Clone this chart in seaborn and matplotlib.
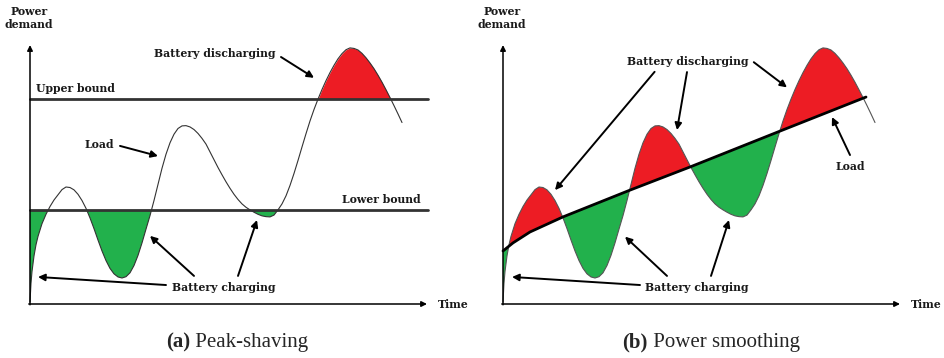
import numpy as np
import pandas as pd
import matplotlib
matplotlib.use("Agg")
import matplotlib.pyplot as plt
import seaborn as sns

# ---- data (arbitrary units) ----
load_time = [0, 0.25, 0.5, 1, 1.5, 2, 3, 4, 5, 6, 7, 8, 9, 10, 11, 12, 13, 14, 15,
             16, 17, 18, 19, 20, 21, 22, 23, 24, 25, 26, 27, 28, 29, 30, 31, 32, 33,
             34, 35, 36, 37, 38, 39, 40, 41, 42, 43, 44, 45, 46, 47, 48, 49, 50, 51,
             52, 53, 54, 55, 56, 57, 58, 59, 60, 61, 62, 63, 64, 65, 66, 67, 68, 69,
             70, 71, 72, 73, 74, 75, 76, 77, 78, 79, 80, 81, 82, 83, 84, 85, 86, 87,
             88, 89, 90, 91, 92, 93]
load_power = [0.8, 8, 12.5, 18.5, 22.8, 26, 30.9, 34.5, 37.5, 40, 42, 44, 45, 44.8,
              43.9, 42.2, 39.8, 36.8, 33.1, 29, 24.6, 20.4, 16.7, 13.7, 11.6, 10.4, 10,
              10.5, 12, 14.8, 18.7, 23.5, 28.8, 34, 39.8, 46, 52.2, 57.6, 62, 65.3,
              67.5, 68.5, 68.6, 68.1, 67.1, 65.6, 63.7, 61.5, 58.5, 55.5, 52.5, 49.7,
              47, 44.5, 42.2, 40.2, 38.5, 37.2, 36.2, 35.3, 34.5, 33.9, 33.6, 33.5,
              34.2, 36.2, 38.5, 41.6, 45.6, 50.2, 55.2, 60.4, 65.5, 70.4, 74.8, 78.8,
              82.5, 85.9, 89, 91.8, 94.3, 96.3, 97.8, 98.5, 98.3, 97.7, 96.4, 94.7,
              92.7, 90.5, 88, 85.3, 82.4, 79.4, 76.3, 73.1, 69.8]
upper_bound = 78.8
lower_bound = 36.2
smooth_time = [0, 2.5, 6.75, 15, 31.25, 46.75, 69.25, 90.75]
smooth_power = [20.4, 23.5, 27.7, 33.5, 43.5, 52.7, 66.5, 79.6]

RED = "#ED1C24"
GREEN = "#22B14C"

sns.set_style("white")
plt.rcParams["font.family"] = ["DejaVu Serif"]

fig = plt.figure(figsize=(9.44, 3.58), dpi=100)
W, H = 944, 358
ax_a = fig.add_axes([0, 0, 472 / W, 1])
ax_b = fig.add_axes([472 / W, 0, 472 / W, 1])

t = np.array(load_time)
p = np.array(load_power)
df = pd.DataFrame({"time": t, "power": p})

LBL = dict(fontsize=7.8, fontweight="bold", color="#1a1a1a")
ARW = dict(arrowstyle="-|>", color="black", lw=1.4, mutation_scale=10,
           shrinkA=0, shrinkB=0)


def base(ax, x0px):
    # 1 time unit = 4 px, 1 power unit = 2.6 px
    ax.set_xlim(-(x0px) / 4, (472 - x0px) / 4)
    ax.set_ylim(-(358 - 304) / 2.6, 304 / 2.6)
    ax.axis("off")
    ax.annotate("", xy=(0, 99.6), xytext=(0, -0.3),
                arrowprops=dict(ARW, lw=1.1, mutation_scale=8))
    ax.annotate("", xy=(99.25, 0), xytext=(-0.3, 0),
                arrowprops=dict(ARW, lw=1.1, mutation_scale=8))
    ax.text(-0.25, 110, "Power\ndemand", ha="center", va="center",
            linespacing=1.25, **LBL)
    ax.text(102, 0, "Time", ha="left", va="center", **LBL)


# ---- panel (a) ----
ax = ax_a
base(ax, 30)
ax.fill_between(t, p, lower_bound, where=p < lower_bound, interpolate=True,
                color=GREEN, lw=0)
ax.fill_between(t, p, upper_bound, where=p > upper_bound, interpolate=True,
                color=RED, lw=0)
ax.plot([0, 99.5], [upper_bound, upper_bound], color="#333333", lw=2)
ax.plot([0, 99.5], [lower_bound, lower_bound], color="#333333", lw=2)
sns.lineplot(data=df, x="time", y="power", sort=False, ax=ax, color="#333333",
             lw=0.8, estimator=None)
ax.axis("off")
ax.text(1.5, 82.7, "Upper bound", ha="left", va="center", **LBL)
ax.text(97.75, 40, "Lower bound", ha="right", va="center", **LBL)
ax.text(46.25, 96.5, "Battery discharging", ha="center", va="center", **LBL)
ax.annotate("", xy=(71, 87), xytext=(62.75, 95), arrowprops=ARW)
ax.text(17.4, 61.5, "Load", ha="center", va="center", **LBL)
ax.annotate("", xy=(32, 56.9), xytext=(22.5, 60.8), arrowprops=ARW)
ax.text(48.5, 6.5, "Battery charging", ha="center", va="center", **LBL)
ax.annotate("", xy=(2, 10.4), xytext=(34, 7.3), arrowprops=ARW)
ax.annotate("", xy=(30, 26.2), xytext=(41, 10.8), arrowprops=ARW)
ax.annotate("", xy=(56.75, 32.3), xytext=(52, 10.8), arrowprops=ARW)

# ---- panel (b) ----
ax = ax_b
base(ax, 31)
st = np.array(smooth_time)
sp = np.array(smooth_power)
mask = t <= st[-1]
tt = t[mask]
line_at_t = np.interp(tt, st, sp)
ax.fill_between(tt, p[mask], line_at_t, where=p[mask] >= line_at_t,
                interpolate=True, color=RED, lw=0)
ax.fill_between(tt, p[mask], line_at_t, where=p[mask] <= line_at_t,
                interpolate=True, color=GREEN, lw=0)
sns.lineplot(data=df, x="time", y="power", sort=False, ax=ax, color="#555555",
             lw=0.8, estimator=None)
sns.lineplot(x=st, y=sp, sort=False, ax=ax, color="black", lw=2, estimator=None)
ax.axis("off")
ax.text(46.25, 93.2, "Battery discharging", ha="center", va="center", **LBL)
ax.annotate("", xy=(13, 43.8), xytext=(37.9, 89.3), arrowprops=ARW)
ax.annotate("", xy=(43.5, 66.9), xytext=(46, 89.2), arrowprops=ARW)
ax.annotate("", xy=(71, 83.3), xytext=(62.7, 93), arrowprops=ARW)
ax.text(86.75, 53, "Load", ha="center", va="center", **LBL)
ax.annotate("", xy=(82.25, 71.9), xytext=(86.75, 57.3), arrowprops=ARW)
ax.text(48.5, 6.5, "Battery charging", ha="center", va="center", **LBL)
ax.annotate("", xy=(2.25, 10.4), xytext=(34.25, 7.3), arrowprops=ARW)
ax.annotate("", xy=(30.5, 25.9), xytext=(41, 10.8), arrowprops=ARW)
ax.annotate("", xy=(56.5, 32.3), xytext=(52, 10.8), arrowprops=ARW)

# ---- captions ----
CAP = dict(fontsize=15, family=["Liberation Serif"], ha="center", va="center")
fig.canvas.draw()
r = fig.canvas.get_renderer()
for cx, bold, rest in [(237.5, "(a)", " Peak-shaving"),
                       (711, "(b)", " Power smoothing")]:
    t1 = fig.text(0, 0, bold, fontweight="bold", **CAP)
    t2 = fig.text(0, 0, rest, **CAP)
    w1 = t1.get_window_extent(r).width
    w2 = t2.get_window_extent(r).width
    left = cx - (w1 + w2) / 2
    t1.set_ha("left")
    t2.set_ha("left")
    t1.set_position((left / W, 1 - 342 / H))
    t2.set_position(((left + w1) / W, 1 - 342 / H))

fig.savefig("out.png", dpi=100)
